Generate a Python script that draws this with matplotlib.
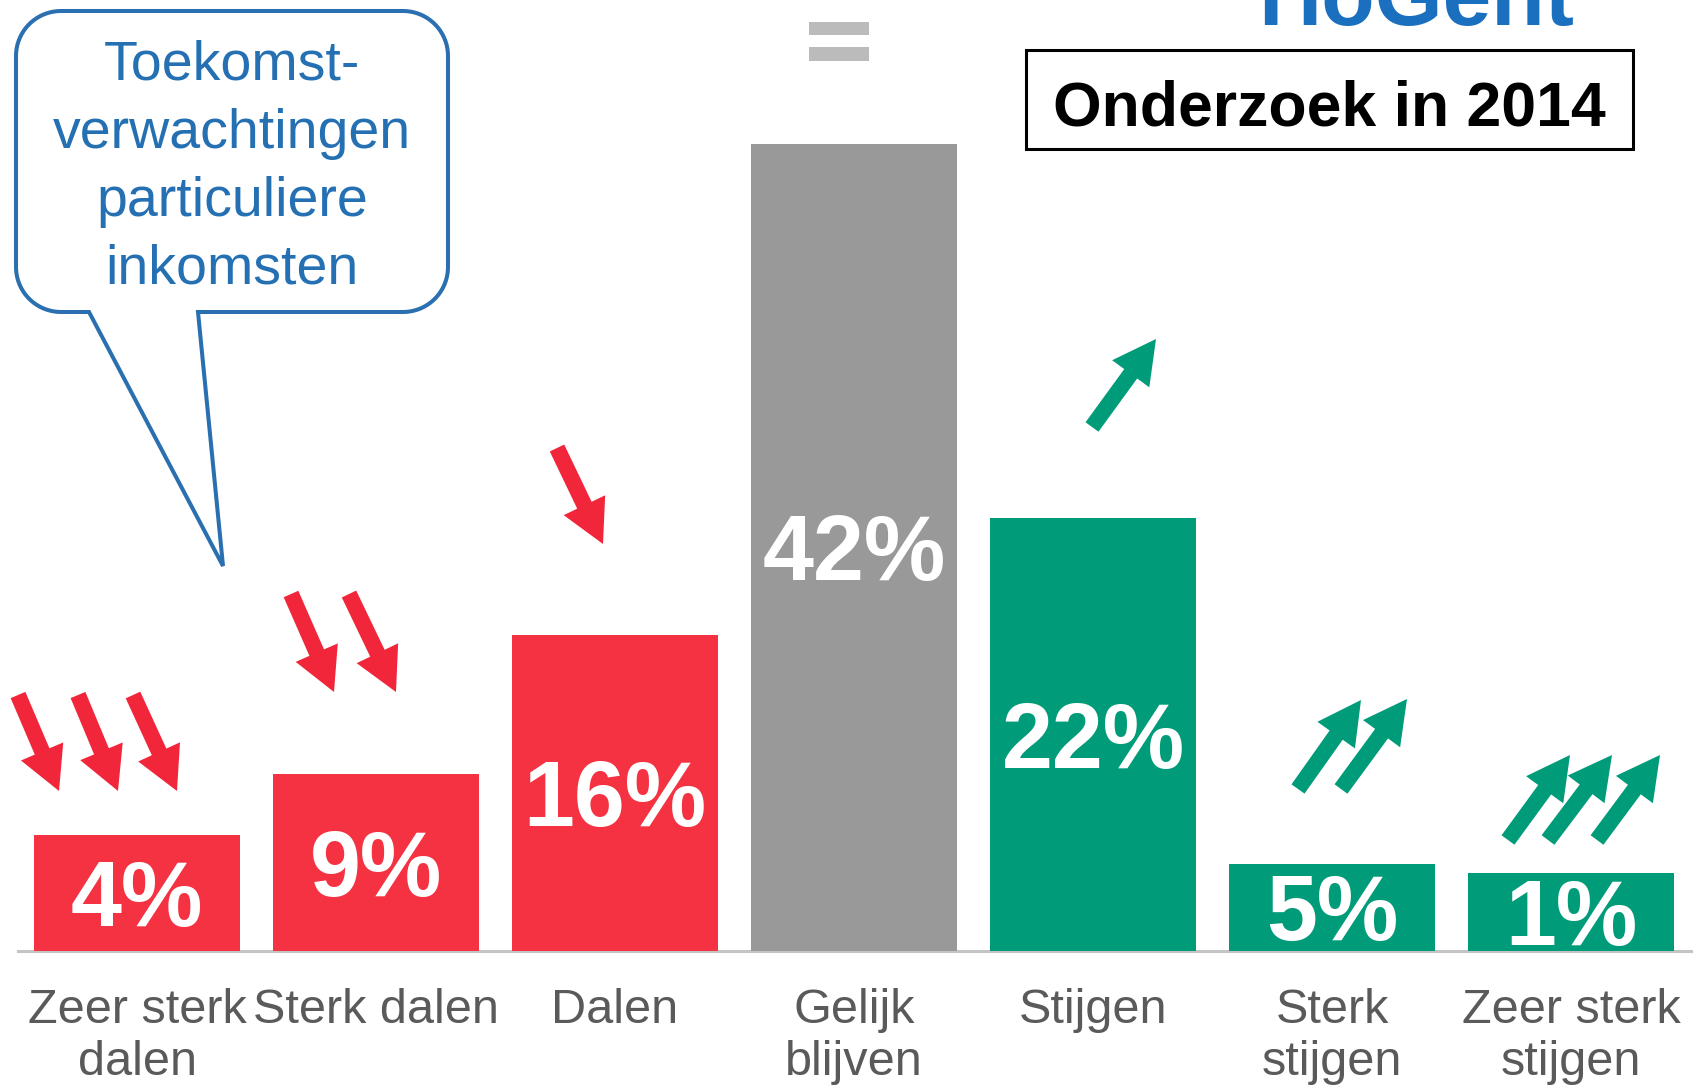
import numpy as np
import matplotlib
matplotlib.use("Agg")
import matplotlib.pyplot as plt
from matplotlib.patches import Polygon, Rectangle, FancyArrow
from matplotlib import transforms

plt.rcParams['font.family'] = ['Liberation Sans', 'DejaVu Sans']

# --- data ---
categories = ["Zeer sterk\ndalen", "Sterk dalen", "Dalen", "Gelijk\nblijven",
              "Stijgen", "Sterk\nstijgen", "Zeer sterk\nstijgen"]
percentages = [4, 9, 16, 42, 22, 5, 1]
# bar heights as drawn in the original (small bars are stretched to fit their label)
bar_heights = [6.0, 9.1, 16.3, 41.6, 22.3, 4.5, 4.0]
bubble_text = "Toekomst-\nverwachtingen\nparticuliere\ninkomsten"
title_text = "Onderzoek in 2014"
logo_text = "HoGent"

# --- style ---
RED = "#f43242"
GRAY = "#999999"
GREEN = "#009b78"
BLUE = "#2470b3"
bar_colors = [RED, RED, RED, GRAY, GREEN, GREEN, GREEN]

W, H = 1700, 1085
fig = plt.figure(figsize=(W / 100, H / 100), dpi=100)
fig.patch.set_facecolor("white")

# main bar axes: baseline at 951 px from top, 19.4 px per percent
base_px = 951
px_per_pct = 19.4
ax = fig.add_axes([17.5 / W, (H - base_px) / H, 1673 / W, base_px / H])
x = np.arange(len(categories))
ax.bar(x, bar_heights, width=0.858, color=bar_colors, zorder=2)
ax.set_xlim(-0.5, len(categories) - 0.5)
ax.set_ylim(0, base_px / px_per_pct)

for s in ["top", "right", "left"]:
    ax.spines[s].set_visible(False)
ax.spines["bottom"].set_color("#c4c4c4")
ax.spines["bottom"].set_linewidth(2.2)
ax.spines["bottom"].set_zorder(1)
ax.set_yticks([])
ax.set_xticks(x)
ax.set_xticklabels(categories, fontsize=35, color="#5a5a5a", linespacing=1.2)
ax.tick_params(axis="x", length=0, pad=26.5)

# value labels, caps centred at mid-height of each bar
lab_tr = transforms.offset_copy(ax.transData, fig=fig, y=-33, units="dots")
for xi, h, p in zip(x, bar_heights, percentages):
    ax.text(xi, h / 2, f"{p}%", transform=lab_tr, ha="center", va="baseline",
            fontsize=66, fontweight="bold", color="white", zorder=3)

# --- decoration overlay in pixel coordinates ---
ov = fig.add_axes([0, 0, 1, 1])
ov.set_xlim(0, W)
ov.set_ylim(H, 0)
ov.set_axis_off()


def bubble_outline(l, t, r, b, rad, tail):
    pts = []
    for cx, cy, a0, a1 in [(r - rad, t + rad, -90, 0), (r - rad, b - rad, 0, 90)]:
        a = np.radians(np.linspace(a0, a1, 20))
        pts += list(zip(cx + rad * np.cos(a), cy + rad * np.sin(a)))
    pts += tail
    for cx, cy, a0, a1 in [(l + rad, b - rad, 90, 180), (l + rad, t + rad, 180, 270)]:
        a = np.radians(np.linspace(a0, a1, 20))
        pts += list(zip(cx + rad * np.cos(a), cy + rad * np.sin(a)))
    return pts


outline = bubble_outline(16, 11, 448, 312, 45, [(198, 312), (223, 566), (89, 312)])
ov.add_patch(Polygon(outline, closed=True, fc="white", ec="#2a70b0", lw=2.9,
                     joinstyle="miter"))
ov.text(232, 40, bubble_text, ha="center", va="top", fontsize=40, color=BLUE,
        linespacing=1.40, multialignment="center")

# trend arrows (tail -> tip)
red_arrows = [((18, 695), (59, 791)), ((78, 695), (118, 791)), ((133, 695), (177, 791)),
              ((291, 594), (334, 692)), ((349, 594), (396, 692)),
              ((557, 448), (603, 544))]
green_arrows = [((1092, 427), (1156, 339)),
                ((1298, 789), (1361, 700)), ((1341, 789), (1407, 699)),
                ((1508, 840), (1570, 755)), ((1548, 840), (1612, 755)), ((1597, 840), (1660, 755))]
for arrows, col in [(red_arrows, "#f2263b"), (green_arrows, GREEN)]:
    for (x0, y0), (x1, y1) in arrows:
        ov.add_patch(FancyArrow(x0, y0, x1 - x0, y1 - y0, width=16, head_width=46,
                                head_length=43, length_includes_head=True,
                                fc=col, ec="none"))

# "=" sign above the middle bar
ov.add_patch(Rectangle((809, 22), 60, 13, fc="#bbbbbb", ec="none"))
ov.add_patch(Rectangle((809, 47), 60, 14, fc="#bbbbbb", ec="none"))

# title box
ov.add_patch(Rectangle((1026, 50), 607, 99, fill=False, ec="black", lw=2.2))
ov.text(1329, 125, title_text, ha="center", va="baseline", fontsize=45,
        fontweight="bold", color="black")

# cut-off logo at the top (cropped in the original as well)
ov.text(1416, 25, logo_text, ha="center", va="baseline", fontsize=63,
        fontweight="bold", color="#1b6fbf")

fig.savefig("out.png", dpi=100)
